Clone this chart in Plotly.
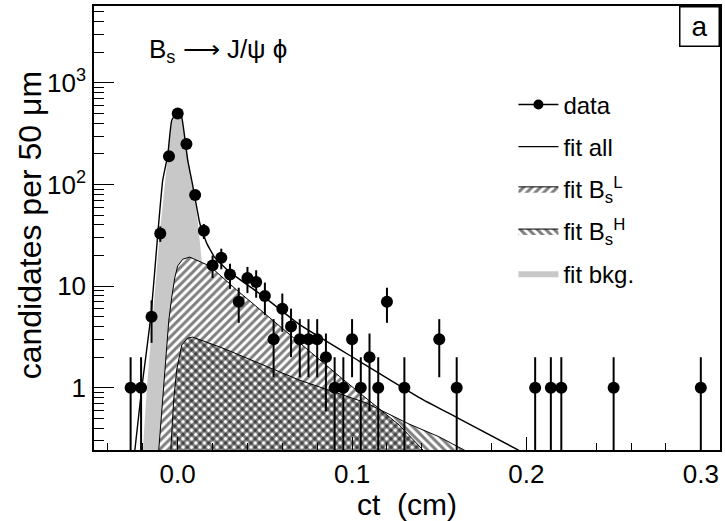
import numpy as np
import plotly.graph_objects as go

# ---- data ----
ct = [-0.027, -0.021, -0.015, -0.010, -0.005, 0.000, 0.005, 0.010, 0.015, 0.020,
      0.025, 0.030, 0.035, 0.040, 0.045, 0.050, 0.055, 0.060, 0.065, 0.070,
      0.075, 0.080, 0.085, 0.090, 0.095, 0.100, 0.105, 0.110, 0.115, 0.120,
      0.130, 0.150, 0.160, 0.205, 0.214, 0.220, 0.250, 0.300]
counts = [1, 1, 5, 33, 190, 500, 250, 79, 35, 16,
          19, 13, 7, 12, 11, 8, 3, 6, 4, 3,
          3, 3, 2, 1, 1, 3, 1, 2, 1, 7,
          1, 3, 1, 1, 1, 1, 1, 1]

fit_all_ct = [-0.0246, -0.0206, -0.0154, -0.0114, -0.0086, -0.0057, -0.0034, 0.0, 0.0023,
              0.004, 0.0057, 0.008, 0.0109, 0.0126, 0.0166, 0.0211, 0.0297, 0.0497,
              0.0697, 0.104, 0.138, 0.161, 0.196]
fit_all_val = [0.24, 1.0, 5.0, 33, 110, 195, 430, 516, 460,
               294, 175, 111, 60, 42, 26.5, 19.3, 13.8, 7.8,
               4.2, 1.83, 0.81, 0.50, 0.24]

bkg_ct = [-0.0200, -0.0177, -0.0143, -0.0103, -0.0057, -0.0034, 0.0, 0.0023, 0.004,
          0.0069, 0.0097, 0.0109, 0.0120, 0.0137, 0.016, 0.0194, 0.0229]
bkg_val = [0.24, 1.0, 5.0, 33, 190, 410, 516, 460, 294,
           140, 72, 55, 36, 19.3, 7.3, 1.2, 0.24]

bsl_ct = [-0.0109, -0.0086, -0.0069, -0.0051, -0.0034, -0.0017, 0.0, 0.0029, 0.0069,
          0.0126, 0.0183, 0.0337, 0.0497, 0.0697, 0.0926, 0.108, 0.127, 0.141]
bsl_val = [0.24, 0.76, 1.75, 4.6, 7.8, 12, 15.8, 18.4, 19.3,
           17.3, 15.8, 9.2, 5.4, 2.75, 1.30, 0.79, 0.43, 0.24]

bsh_ct = [-0.0040, -0.0023, -0.0006, 0.0023, 0.0057, 0.0086, 0.0257, 0.0451, 0.0697,
          0.108, 0.1326, 0.1497, 0.165]
bsh_val = [0.24, 0.76, 1.49, 2.63, 3.08, 3.15, 2.46, 1.79, 1.19,
           0.71, 0.44, 0.33, 0.24]

y_tick_vals = [1, 10, 100, 1000]
y_tick_text = ["1", "10", "10<sup>2</sup>", "10<sup>3</sup>"]

# ---- figure ----
cnt = np.array(counts, dtype=float)
err_up = np.sqrt(cnt)
err_dn = np.minimum(np.sqrt(cnt), cnt - 1e-3)

FONT = "Liberation Sans, Arial, sans-serif"
fig = go.Figure()

fig.add_trace(go.Scatter(
    x=bkg_ct, y=bkg_val, mode="lines", fill="tozeroy",
    line=dict(color="rgba(0,0,0,0)", width=0), fillcolor="#c8c8c8",
    name="fit bkg.", legendrank=5, legendgroup="g5"))

fig.add_trace(go.Scatter(
    x=bsl_ct, y=bsl_val, mode="lines", fill="tozeroy",
    line=dict(color="black", width=1), fillcolor="white",
    fillpattern=dict(shape="/", fgcolor="black", bgcolor="white", size=6, solidity=0.5),
    name="fit B<sub>s</sub><sup>L</sup>", legendrank=3, legendgroup="g3"))

fig.add_trace(go.Scatter(
    x=bsh_ct, y=bsh_val, mode="lines", fill="tozeroy",
    line=dict(color="black", width=1), fillcolor="rgba(0,0,0,0)",
    fillpattern=dict(shape="\\", fgcolor="black", bgcolor="rgba(0,0,0,0)", size=6, solidity=0.5),
    name="fit B<sub>s</sub><sup>H</sup>", legendrank=4, legendgroup="g4"))

fig.add_trace(go.Scatter(
    x=fit_all_ct, y=fit_all_val, mode="lines",
    line=dict(color="black", width=1.4, shape="spline", smoothing=0.4),
    name="fit all", legendrank=2, legendgroup="g2"))

fig.add_trace(go.Scatter(
    x=ct, y=counts, mode="markers",
    marker=dict(color="black", size=12),
    error_y=dict(type="data", array=err_up, arrayminus=err_dn, width=0,
                 thickness=2, color="black"),
    showlegend=False, name="data"))

# legend entry for the data (line + marker symbol)
fig.add_trace(go.Scatter(
    x=[None], y=[None], mode="lines+markers",
    line=dict(color="black", width=1.5), marker=dict(color="black", size=10),
    name="data", legendrank=1, legendgroup="g1"))

minor_vals = [m * d for d in (0.1, 1, 10, 100, 1000) for m in range(2, 10)]

fig.update_layout(
    width=725, height=521,
    margin=dict(l=94, r=3, t=6, b=71),
    plot_bgcolor="white", paper_bgcolor="white",
    font=dict(family=FONT, color="black"),
    showlegend=True,
    legend=dict(x=0.67, y=0.828, xanchor="left", yanchor="top",
                bgcolor="rgba(0,0,0,0)", borderwidth=0,
                font=dict(size=24, family=FONT), tracegroupgap=8,
                itemwidth=40),
    xaxis=dict(
        range=[-0.048, 0.311], dtick=0.1, tick0=0, tickformat=".1f",
        ticks="inside", ticklen=13, tickwidth=1.3, tickcolor="black",
        showline=True, linewidth=1.5, linecolor="black", mirror=True,
        showgrid=False, zeroline=False,
        minor=dict(ticks="inside", ticklen=7, dtick=0.02, tick0=0, tickwidth=1,
                   tickcolor="black", showgrid=False),
        tickfont=dict(size=26),
        title=dict(text="ct  (cm)", font=dict(size=30), standoff=6),
    ),
    yaxis=dict(
        type="log", range=[-0.613, 3.757],
        tickmode="array", tickvals=y_tick_vals, ticktext=y_tick_text,
        ticks="inside", ticklen=20, tickwidth=1.3, tickcolor="black",
        showline=True, linewidth=1.5, linecolor="black", mirror=True,
        showgrid=False, zeroline=False,
        minor=dict(ticks="inside", ticklen=10, tickvals=minor_vals, tickwidth=1,
                   tickcolor="black", showgrid=False),
        tickfont=dict(size=26), ticklabelstandoff=1,
    ),
)

# y-axis title placed as rotated text
fig.add_annotation(
    xref="paper", yref="paper", x=-0.103, y=0.505, xanchor="center", yanchor="middle",
    text="candidates per 50 μm", textangle=-90, showarrow=False, font=dict(size=32))

fig.add_annotation(
    xref="paper", yref="paper", x=0.085, y=0.9, xanchor="left", yanchor="middle",
    text="B<sub>s</sub>\u00a0\u27f6\u00a0J/\u03c8\u00a0\u03d5", showarrow=False,
    font=dict(size=26))

fig.add_annotation(
    xref="paper", yref="paper", x=1, y=1, xanchor="right", yanchor="top",
    text="a", showarrow=False, font=dict(size=28),
    bordercolor="black", borderwidth=1.5, borderpad=0, width=38, height=38,
    bgcolor="white")

fig.write_html("out.html")
